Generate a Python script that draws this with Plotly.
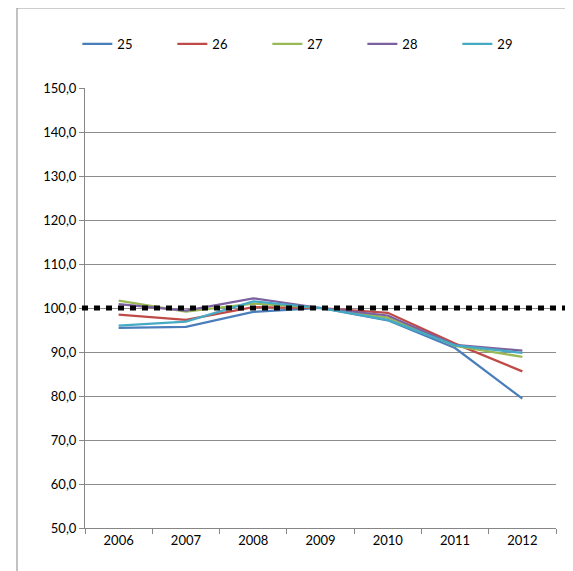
import plotly.graph_objects as go

years = ["2006", "2007", "2008", "2009", "2010", "2011", "2012"]
series_names = ["25", "26", "27", "28", "29"]
s25 = [95.5, 95.7, 99.1, 100.0, 97.2, 90.9, 79.4]
s26 = [98.5, 97.3, 100.2, 100.0, 98.9, 91.9, 85.6]
s27 = [101.7, 99.2, 101.0, 100.0, 97.8, 91.4, 88.9]
s28 = [100.9, 99.4, 102.2, 100.0, 98.3, 91.6, 90.3]
s29 = [96.0, 96.9, 101.5, 100.0, 97.3, 91.5, 89.8]
series_values = [s25, s26, s27, s28, s29]
colors = ["#4A7EBB", "#BE4B48", "#98B954", "#7D60A0", "#46AAC5"]
ytick_vals = [50, 60, 70, 80, 90, 100, 110, 120, 130, 140, 150]
ytick_text = ["50,0", "60,0", "70,0", "80,0", "90,0", "100,0", "110,0", "120,0", "130,0", "140,0", "150,0"]
ref_value = 100

fig = go.Figure()
for name, vals, c in zip(series_names, series_values, colors):
    fig.add_trace(go.Scatter(x=years, y=vals, name=name, mode="lines",
                             line=dict(color=c, width=2.25)))

# outer chart frame: left and top edges (the others fall outside the picture)
fig.add_shape(type="line", xref="paper", yref="paper",
              x0=-0.1444, x1=-0.1444, y0=-0.2, y1=1.182,
              line=dict(color="#868686", width=1), layer="below")
fig.add_shape(type="line", xref="paper", yref="paper",
              x0=-0.1444, x1=1.2, y0=1.182, y1=1.182,
              line=dict(color="#868686", width=1), layer="below")
# dotted reference line at 100
fig.add_shape(type="line", xref="paper", yref="y",
              x0=-0.0064, x1=1.027, y0=ref_value, y1=ref_value,
              line=dict(color="black", width=5, dash="6px,6px"), layer="above")

fig.update_layout(
    width=565, height=563,
    margin=dict(l=77, r=17, t=80, b=43, autoexpand=False),
    paper_bgcolor="white", plot_bgcolor="white",
    font=dict(family="Lato, Carlito, Liberation Sans", size=13, color="black"),
    showlegend=True,
    legend=dict(orientation="h", x=0.488, xanchor="center", y=1.10, yanchor="middle",
                entrywidth=50, font=dict(size=13)),
    xaxis=dict(type="category", categoryorder="array", categoryarray=years,
               range=[-0.5, 6.5], showline=True, linecolor="#868686", linewidth=1,
               ticks="outside", tickson="boundaries", ticklen=5, tickcolor="#868686",
               showgrid=False, zeroline=False, fixedrange=True),
    yaxis=dict(range=[50, 150], tickvals=ytick_vals, ticktext=ytick_text,
               showline=True, linecolor="#868686", linewidth=1,
               ticks="outside", ticklen=5, tickcolor="#868686",
               showgrid=True, gridcolor="#8c8c8c", gridwidth=1, zeroline=False),
)

fig.write_html("out.html")
